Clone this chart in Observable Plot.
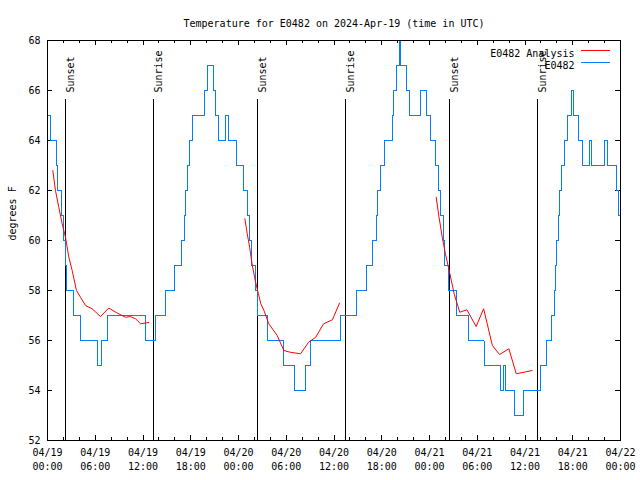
<!DOCTYPE html>
<html><head><meta charset="utf-8">
<script src="https://cdn.jsdelivr.net/npm/d3@7"></script>
<script src="https://cdn.jsdelivr.net/npm/@observablehq/plot@0.6"></script>
<style>body{margin:0;background:#fff} svg{display:block}</style>
</head><body><div id="chart"></div>
<script>
// ---- data ----
const title = "Temperature for E0482 on 2024-Apr-19 (time in UTC)";
const yLabel = "degrees F";
const seriesNames = ["E0482 Analysis", "E0482"];
const startUTC = Date.UTC(2024, 3, 19, 0, 0);

// observed temperature: [hours since 04/19 00:00 UTC, degF] at each change
const obsE0482 = [
  [0,65],[0.35,64],[1.1,63],[1.3,62],[1.7,61],[1.95,60],[2.3,59],[2.45,58],[3.3,57],[4.15,56],
  [6.25,55],[6.8,56],[7.6,57],[12.35,56],[13.6,57],[14.85,58],[15.9,59],[16.9,60],[17.25,61],
  [17.4,62],[17.55,63],[17.9,64],[18.2,65],[19.7,66],[20.1,67],[20.8,66],[21.1,65],[21.45,64],
  [22.35,65],[22.8,64],[23.8,63],[24.6,62],[25.1,61],[25.35,60],[25.6,59],[26.1,58],[26.35,57],
  [27.7,56],[29.6,55],[31.0,54],[32.4,55],[33.1,56],[36.8,57],[38.85,58],[40.1,59],[40.85,60],
  [41.3,61],[41.45,62],[41.8,63],[42.3,64],[43.35,65],[43.5,66],[43.8,67],[44.2,68],[44.4,67],
  [45.1,66],[45.45,65],[46.9,66],[47.6,65],[48.1,64],[48.7,63],[49.15,62],[49.4,61],[49.75,60],
  [49.9,59],[50.45,58],[51.35,57],[52.95,56],[54.85,55],[56.95,54],[57.35,55],[57.6,54],[58.7,53],
  [59.75,54],[62.0,55],[62.7,56],[63.3,57],[63.65,58],[63.85,59],[64.0,60],[64.2,61],[64.35,62],
  [64.55,63],[64.95,64],[65.3,65],[65.8,66],[66.05,65],[66.7,64],[67.2,63],[68.15,64],[68.35,63],
  [70.05,64],[70.35,63],[71.55,62],[71.8,61],[72,61]
];

// analysis segments: [hours, degF]
const analysisNight1 = [
  [0.67,62.8],[1.0,62.0],[1.42,61.33],[1.84,60.67],[2.26,60.13],[2.68,59.33],[3.1,58.8],[3.64,58.0],
  [4.15,57.73],[4.78,57.4],[5.6,57.27],[6.66,56.96],[7.7,57.3],[8.75,57.1],[9.8,56.93],[10.4,56.96],
  [11.06,56.87],[11.7,56.67],[12.73,56.72]
];
const analysisNight2 = [
  [24.8,60.87],[25.1,60.27],[25.4,59.73],[25.7,59.07],[26.1,58.4],[26.5,57.87],[26.8,57.47],[27.2,57.2],
  [27.8,56.67],[28.86,56.2],[29.7,55.6],[30.5,55.53],[31.8,55.47],[32.8,55.93],[33.7,56.13],[34.7,56.67],
  [35.8,56.83],[36.7,57.5]
];
const analysisNight3 = [
  [48.84,61.73],[49.2,60.93],[49.6,60.13],[50.0,59.47],[50.56,58.67],[51.1,57.87],[51.8,57.13],[52.7,57.23],
  [53.86,56.56],[54.8,57.27],[55.9,55.8],[56.8,55.44],[57.97,55.67],[58.9,54.67],[59.85,54.73],[60.9,54.8]
];

const sunHours = [2.26, 13.32, 26.39, 37.45, 50.52, 61.57];
const sunLabels = ["Sunset", "Sunrise", "Sunset", "Sunrise", "Sunset", "Sunrise"];

const xMajorHours = [0, 6, 12, 18, 24, 30, 36, 42, 48, 54, 60, 66, 72];
const xMinorHours = [2, 4, 8, 10, 14, 16, 20, 22, 26, 28, 32, 34, 38, 40, 44, 46, 50, 52, 56, 58, 62, 64, 68, 70];
const yTicks = [52, 54, 56, 58, 60, 62, 64, 66, 68];

// ---- layout / style ----
const W = 640, H = 480, mL = 47, mR = 20, mT = 40, mB = 40;
const fw = W - mL - mR, fh = H - mT - mB;
const blue = "#0080ff", red = "#ff0000";
const sunLineTop = 65.64;

const toDate = h => new Date(startUTC + h * 3600e3);
const fmt = d3.utcFormat("%m/%d\n%H:%M");
const analysis = [analysisNight1, analysisNight2, analysisNight3]
  .flatMap((seg, k) => seg.map(([h, t]) => ({h, t, seg: k})));

const plot = Plot.plot({
  width: W, height: H,
  marginLeft: mL, marginRight: mR, marginTop: mT, marginBottom: mB,
  style: {fontFamily: "'DejaVu Sans Mono', monospace", fontSize: "10px", background: "#fff", color: "#000", overflow: "visible"},
  x: {type: "utc", domain: [toDate(0), toDate(72)], label: null},
  y: {domain: [52, 68], label: null},
  marks: [
    Plot.axisX(xMajorHours.map(toDate), {tickSize: 0, tickPadding: 6, tickFormat: fmt, lineHeight: 1.4, label: null}),
    Plot.axisY(yTicks, {tickSize: 0, tickPadding: 7, label: null}),
    Plot.tickX(xMajorHours.map(toDate), {x: d => d, insetTop: fh - 5, stroke: "black", shapeRendering: "crispEdges"}),
    Plot.tickX(xMajorHours.map(toDate), {x: d => d, insetBottom: fh - 5, stroke: "black", shapeRendering: "crispEdges"}),
    Plot.tickX(xMinorHours.map(toDate), {x: d => d, insetTop: fh - 3, stroke: "black", shapeRendering: "crispEdges"}),
    Plot.tickX(xMinorHours.map(toDate), {x: d => d, insetBottom: fh - 3, stroke: "black", shapeRendering: "crispEdges"}),
    Plot.tickY(yTicks, {y: d => d, insetRight: fw - 5, stroke: "black", shapeRendering: "crispEdges"}),
    Plot.tickY(yTicks, {y: d => d, insetLeft: fw - 5, stroke: "black", shapeRendering: "crispEdges"}),
    Plot.ruleX(sunHours, {x: toDate, y1: 52, y2: sunLineTop, stroke: "black", shapeRendering: "crispEdges"}),
    Plot.text(sunHours, {x: toDate, text: (d, i) => sunLabels[i], frameAnchor: "top", dy: 52, dx: 1, rotate: -90, textAnchor: "start"}),
    Plot.line(obsE0482, {x: d => toDate(d[0]), y: d => d[1], curve: "step-after", stroke: blue, strokeWidth: 1, shapeRendering: "crispEdges"}),
    Plot.line(analysis, {x: d => toDate(d.h), y: "t", z: "seg", stroke: red, strokeWidth: 1}),
    Plot.text([title], {text: d => d, frameAnchor: "top", dy: -21}),
    Plot.text([yLabel], {text: d => d, frameAnchor: "left", dx: -35, rotate: -90}),
    Plot.text([seriesNames[0]], {text: d => d, frameAnchor: "top-right", dx: -46, dy: 9, textAnchor: "end"}),
    Plot.text([seriesNames[1]], {text: d => d, frameAnchor: "top-right", dx: -46, dy: 21, textAnchor: "end"}),
    Plot.frame({stroke: "black", shapeRendering: "crispEdges"})
  ]
});

// legend swatches
const svg = d3.select(plot);
[[red, mT + 10], [blue, mT + 22]].forEach(([c, y]) => {
  svg.append("line")
    .attr("x1", W - mR - 39).attr("x2", W - mR - 10)
    .attr("y1", y).attr("y2", y)
    .style("stroke", c).style("stroke-width", "1px")
    .attr("shape-rendering", "crispEdges");
});

document.getElementById("chart").appendChild(plot);
</script>
</body></html>
